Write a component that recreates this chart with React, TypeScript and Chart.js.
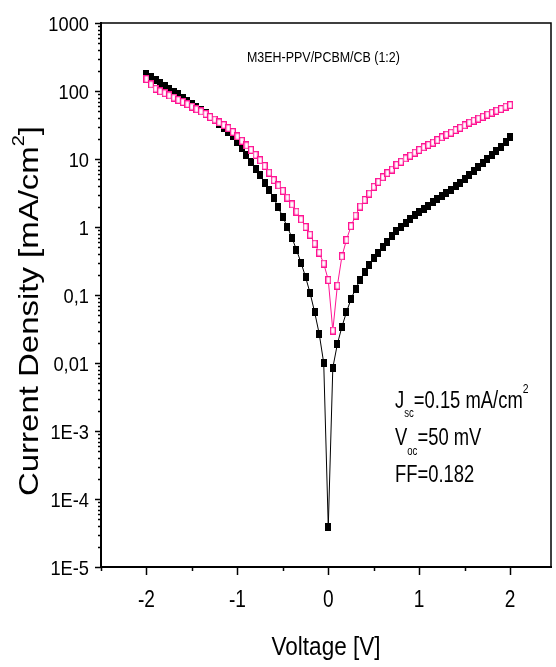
import React, { useEffect, useRef } from "react";
import { Chart, registerables } from "chart.js";

Chart.register(...registerables);

// ---------------- data ----------------
const voltage = [
  -2.0, -1.95, -1.9, -1.85, -1.8, -1.75, -1.7, -1.65, -1.6, -1.55,
  -1.5, -1.45, -1.4, -1.35, -1.3, -1.25, -1.2, -1.15, -1.1, -1.05,
  -1.0, -0.95, -0.9, -0.85, -0.8, -0.75, -0.7, -0.65, -0.6, -0.55,
  -0.5, -0.45, -0.4, -0.35, -0.3, -0.25, -0.2, -0.15, -0.1, -0.05,
  0.0,
  0.05, 0.1, 0.15, 0.2, 0.25, 0.3, 0.35, 0.4, 0.45, 0.5,
  0.55, 0.6, 0.65, 0.7, 0.75, 0.8, 0.85, 0.9, 0.95, 1.0,
  1.05, 1.1, 1.15, 1.2, 1.25, 1.3, 1.35, 1.4, 1.45, 1.5,
  1.55, 1.6, 1.65, 1.7, 1.75, 1.8, 1.85, 1.9, 1.95, 2.0,
];

// filled black squares
const currentBlack = [
  180, 160, 145, 132, 120, 108, 98, 89, 80, 72,
  65, 58, 52, 47, 42, 37, 33, 29, 25, 21.5,
  18, 14.5, 11.5, 9.0, 7.2, 5.8, 4.5, 3.5, 2.65, 1.95,
  1.4, 1.0, 0.7, 0.46, 0.3, 0.184, 0.107, 0.056, 0.027, 0.01,
  3.9e-5,
  0.0085, 0.019, 0.034, 0.056, 0.087, 0.123, 0.166, 0.22, 0.28, 0.35,
  0.42, 0.51, 0.61, 0.73, 0.87, 1.0, 1.15, 1.3, 1.48, 1.65,
  1.85, 2.05, 2.3, 2.55, 2.85, 3.2, 3.55, 4.0, 4.5, 5.1,
  5.8, 6.6, 7.6, 8.7, 10.0, 11.5, 13.2, 15.2, 17.5, 21,
];

// open pink squares
const currentPink = [
  150, 125, 108, 99, 93, 86, 80, 74, 69, 64,
  59, 54, 50, 46, 41.5, 38, 34.5, 31.5, 28.5, 25,
  21.5, 18.5, 15.8, 13.6, 11.5, 9.6, 7.9, 6.3, 4.9, 4.1,
  3.4, 2.7, 2.15, 1.68, 1.3, 1.0, 0.77, 0.57, 0.42, 0.29,
  0.166,
  0.03, 0.137, 0.37, 0.645, 1.03, 1.47, 2.0, 2.5, 3.1, 3.9,
  4.6, 5.4, 6.2, 7.0, 8.2, 9.1, 10.2, 11.2, 12.4, 13.6,
  14.9, 16.1, 17.4, 19, 20.9, 22.8, 24.4, 26.7, 28.8, 31.3,
  34.2, 36.6, 39.2, 41.9, 44.9, 48, 51.3, 54.3, 58.8, 62.2,
];

const yTickValues = [1e-5, 1e-4, 1e-3, 0.01, 0.1, 1, 10, 100, 1000];
const yTickLabels = ["1E-5", "1E-4", "1E-3", "0,01", "0,1", "1", "10", "100", "1000"];
const xTickValues = [-2, -1, 0, 1, 2];
const xTickLabels = ["-2", "-1", "0", "1", "2"];
const xMinorValues = [-2.5, -1.5, -0.5, 0.5, 1.5];

const sampleTitle = "M3EH-PPV/PCBM/CB (1:2)";
const xAxisTitle = "Voltage [V]";
const yAxisTitle = "Current Density [mA/cm";
const jscText = "=0.15 mA/cm";
const vocText = "=50 mV";
const ffText = "FF=0.182";

const PINK = "#ff1493";
const FONT = '"Liberation Sans", Arial, Helvetica, sans-serif';

type Part = { t: string; size: number; dy: number };

function runWidth(ctx: CanvasRenderingContext2D, parts: Part[]) {
  let w = 0;
  for (const p of parts) {
    ctx.font = `${p.size}px ${FONT}`;
    w += ctx.measureText(p.t).width;
  }
  return w;
}

// draw a run of text pieces, horizontally scaled by sx; align: 0 left, 0.5 center, 1 right
function drawRun(
  ctx: CanvasRenderingContext2D,
  parts: Part[],
  x: number,
  y: number,
  sx: number,
  align = 0
) {
  const w = runWidth(ctx, parts);
  ctx.save();
  ctx.translate(x, y);
  ctx.scale(sx, 1);
  let cx = -w * align;
  ctx.textBaseline = "alphabetic";
  ctx.textAlign = "left";
  for (const p of parts) {
    ctx.font = `${p.size}px ${FONT}`;
    ctx.fillText(p.t, cx, p.dy);
    cx += ctx.measureText(p.t).width;
  }
  ctx.restore();
}

const decorPlugin = {
  id: "decor",
  afterDatasetsDraw(chart: any) {
    const ctx: CanvasRenderingContext2D = chart.ctx;
    const xs = chart.scales.x;
    const ys = chart.scales.y;
    const a = chart.chartArea;
    ctx.save();
    ctx.fillStyle = "#000";
    ctx.strokeStyle = "#000";

    // frame
    ctx.lineWidth = 1.5;
    ctx.beginPath();
    ctx.moveTo(a.left, a.top);
    ctx.lineTo(a.right, a.top);
    ctx.lineTo(a.right, a.bottom);
    ctx.stroke();
    ctx.lineWidth = 2;
    ctx.beginPath();
    ctx.moveTo(a.left, a.top - 1);
    ctx.lineTo(a.left, a.bottom);
    ctx.lineTo(a.right + 1, a.bottom);
    ctx.stroke();

    // y ticks (major + minor)
    ctx.lineWidth = 1.5;
    for (let e = -5; e <= 3; e++) {
      for (let m = 1; m <= 9; m++) {
        const v = m * Math.pow(10, e);
        if (v > 1000 * 1.0001) continue;
        const py = Math.round(ys.getPixelForValue(v)) + 0.5;
        const len = m === 1 ? 6 : 3;
        ctx.beginPath();
        ctx.moveTo(a.left - len, py);
        ctx.lineTo(a.left, py);
        ctx.stroke();
      }
    }
    // x ticks
    for (const v of xTickValues) {
      const px = Math.round(xs.getPixelForValue(v)) + 0.5;
      ctx.beginPath();
      ctx.moveTo(px, a.bottom);
      ctx.lineTo(px, a.bottom + 8);
      ctx.stroke();
    }
    for (const v of xMinorValues) {
      const px = Math.round(xs.getPixelForValue(v)) + 0.5;
      ctx.beginPath();
      ctx.moveTo(px, a.bottom);
      ctx.lineTo(px, a.bottom + 4);
      ctx.stroke();
    }

    // y tick labels
    yTickValues.forEach((v, i) => {
      const py = ys.getPixelForValue(v);
      drawRun(ctx, [{ t: yTickLabels[i], size: 21, dy: 0 }], a.left - 12, py + 7.5, 0.87, 1);
    });
    // x tick labels
    xTickValues.forEach((v, i) => {
      const px = xs.getPixelForValue(v);
      drawRun(ctx, [{ t: xTickLabels[i], size: 23, dy: 0 }], px, a.bottom + 40, 0.83, 0.5);
    });

    // x axis title
    drawRun(ctx, [{ t: xAxisTitle, size: 25, dy: 0 }], (a.left + a.right) / 2, a.bottom + 88, 0.9, 0.5);

    // y axis title (rotated)
    {
      const parts: Part[] = [
        { t: yAxisTitle, size: 28, dy: 0 },
        { t: "2", size: 17, dy: -14 },
        { t: "]", size: 28, dy: 0 },
      ];
      const w = runWidth(ctx, parts);
      const target = 370;
      ctx.save();
      ctx.translate(38, 311);
      ctx.rotate(-Math.PI / 2);
      drawRun(ctx, parts, 0, 0, target / w, 0.5);
      ctx.restore();
    }

    // sample title
    drawRun(ctx, [{ t: sampleTitle, size: 15, dy: 0 }], 247, 62, 0.83, 0);

    // annotations
    drawRun(
      ctx,
      [
        { t: "J", size: 23, dy: 0 },
        { t: "sc", size: 12, dy: 9 },
        { t: jscText, size: 23, dy: 0 },
        { t: "2", size: 13, dy: -15 },
      ],
      395,
      408,
      0.8,
      0
    );
    drawRun(
      ctx,
      [
        { t: "V", size: 23, dy: 0 },
        { t: "oc", size: 12, dy: 10 },
        { t: vocText, size: 23, dy: 0 },
      ],
      395,
      445,
      0.8,
      0
    );
    drawRun(ctx, [{ t: ffText, size: 23, dy: 0 }], 395, 482, 0.8, 0);

    ctx.restore();
  },
};

function makeSquare(fill: string, stroke: string | null, w: number, h: number) {
  const c = document.createElement("canvas");
  c.width = w;
  c.height = h;
  const g = c.getContext("2d")!;
  g.fillStyle = fill;
  g.fillRect(0, 0, w, h);
  if (stroke) {
    g.strokeStyle = stroke;
    g.lineWidth = 1.3;
    g.strokeRect(0.65, 0.65, w - 1.3, h - 1.3);
  }
  return c;
}

export default function App() {
  const ref = useRef<HTMLCanvasElement | null>(null);

  useEffect(() => {
    if (!ref.current) return;
    const blackSq = makeSquare("#000", null, 6, 8);
    const pinkSq = makeSquare("#fff", PINK, 6, 8);

    const chart = new Chart(ref.current, {
      type: "scatter",
      data: {
        datasets: [
          {
            label: "pink",
            data: voltage.map((v, i) => ({ x: v, y: currentPink[i] })),
            showLine: true,
            borderColor: PINK,
            borderWidth: 1,
            backgroundColor: "#fff",
            pointStyle: pinkSq as any,
            pointRadius: 4,
          },
          {
            label: "black",
            data: voltage.map((v, i) => ({ x: v, y: currentBlack[i] })),
            showLine: true,
            borderColor: "#000",
            borderWidth: 1,
            backgroundColor: "#000",
            pointStyle: blackSq as any,
            pointRadius: 4,
          },
        ],
      },
      options: {
        animation: false,
        responsive: false,
        devicePixelRatio: 1,
        layout: { padding: { left: 101, top: 23, right: 5, bottom: 100 } },
        elements: { line: { tension: 0 } },
        scales: {
          x: { type: "linear", min: -2.5, max: 2.45, display: false },
          y: { type: "logarithmic", min: 1e-5, max: 1000, display: false },
        },
        plugins: {
          legend: { display: false },
          tooltip: { enabled: false },
        },
      },
      plugins: [decorPlugin],
    });
    return () => chart.destroy();
  }, []);

  return (
    <div style={{ position: "fixed", left: 0, top: 0, width: 556, height: 667, background: "#fff" }}>
      <canvas ref={ref} width={556} height={667} style={{ display: "block" }} />
    </div>
  );
}
